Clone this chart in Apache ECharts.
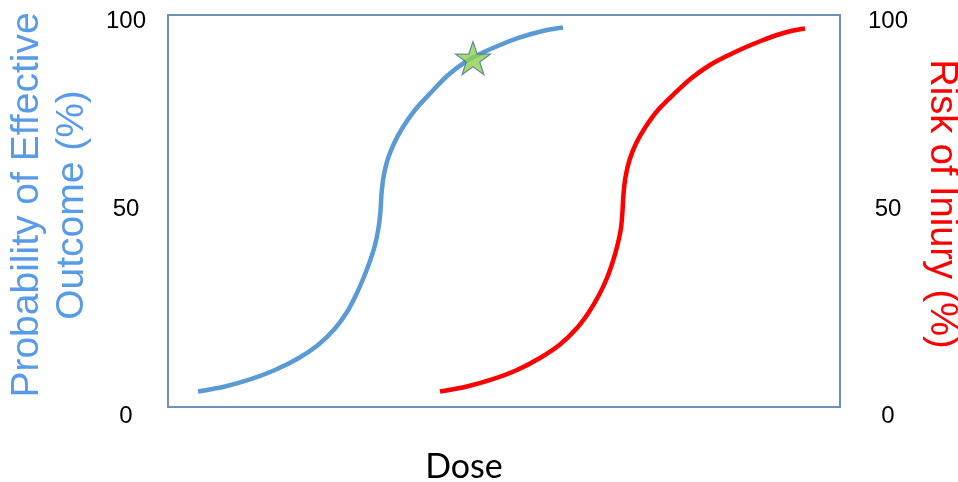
<!DOCTYPE html>
<html>
<head>
<meta charset="utf-8">
<script src="https://cdn.jsdelivr.net/npm/echarts@6/dist/echarts.min.js"></script>
<style>html,body{margin:0;padding:0;background:#fff;}#chart{width:958px;height:482px;}</style>
</head>
<body>
<div id="chart"></div>
<script>
// Dose (arbitrary units, 0-672 across the plot box) and percentages
var doseMax = 672;
var effectiveDose = [30, 57, 82, 107, 130, 150, 167, 179, 188, 195.5, 202, 207, 210.5, 212.5, 213.5, 215.5, 219.5, 226, 235, 247, 262, 279, 298, 316, 332, 349, 365, 379, 395];
var effectivePct  = [3.95, 5.23, 7.02, 9.44, 12.37, 15.82, 20.03, 24.23, 28.57, 32.91, 37.24, 41.33, 45.66, 50.0, 54.34, 58.67, 63.01, 67.22, 71.43, 75.77, 79.97, 84.44, 88.14, 90.56, 92.35, 94.01, 95.28, 96.17, 96.81];
var injuryDose = [272, 299, 324, 349, 372, 392, 409, 421, 431, 439, 445, 449.5, 453, 454.5, 455.5, 457.5, 461.5, 468, 477.5, 490, 506, 523, 542, 560, 577, 594, 609, 623, 637];
var injuryPct  = [3.95, 5.23, 7.02, 9.44, 12.5, 15.94, 20.15, 24.23, 28.57, 32.91, 37.24, 41.33, 45.66, 50.0, 54.34, 58.67, 63.01, 67.22, 71.43, 75.77, 79.85, 83.8, 87.24, 89.67, 91.71, 93.49, 94.9, 95.92, 96.56];
var starPoint = [305, 89.0];
var yTicks = [0, 50, 100];

function pairs(xs, ys){ return xs.map(function(x,i){ return [x, ys[i]]; }); }

var labelRich = {
  z: {fontSize: 24, color: '#000', fontFamily: 'Liberation Sans, Arial', padding: [19,0,0,0]},
  m: {fontSize: 24, color: '#000', fontFamily: 'Liberation Sans, Arial', padding: [0,0,4,0]},
  h: {fontSize: 24, color: '#000', fontFamily: 'Liberation Sans, Arial', padding: [13,0,0,0]}
};
function fmt(v){
  if (v === yTicks[0]) return '{z|' + v + '}';
  if (v === yTicks[2]) return '{h|' + v + '}';
  return '{m|' + v + '}';
}

var chart = echarts.init(document.getElementById('chart'), null, {renderer: 'canvas'});
chart.setOption({
  animation: false,
  backgroundColor: '#fff',
  grid: {left: 168, right: 118, top: 15, bottom: 75, containLabel: false, outerBoundsMode: 'none',
         show: true, borderColor: '#6f90b8', borderWidth: 2, backgroundColor: 'transparent'},
  xAxis: {
    type: 'value', min: 0, max: doseMax,
    axisLine: {show: false}, axisTick: {show: false}, axisLabel: {show: false}, splitLine: {show: false},
    name: 'Dose', nameLocation: 'middle', nameGap: 40,
    nameTextStyle: {fontFamily: 'Lato', fontSize: 34, color: '#000', lineHeight: 40, padding: [0, 80, 0, 0]}
  },
  yAxis: [{
    type: 'value', position: 'left', min: 0, max: 100, interval: 50,
    axisLine: {show: false}, axisTick: {show: false}, splitLine: {show: false},
    axisLabel: {margin: 42, align: 'center', formatter: fmt, rich: labelRich},
    name: 'Probability of Effective\nOutcome (%)', nameLocation: 'middle', nameRotate: 90, nameGap: 70,
    nameTextStyle: {fontFamily: 'Liberation Sans, Arial', fontSize: 39, lineHeight: 45, color: '#589BE8', align: 'center', padding: [0, 0, 0, 12]}
  }, {
    type: 'value', position: 'right', min: 0, max: 100, interval: 50,
    axisLine: {show: false}, axisTick: {show: false}, splitLine: {show: false},
    axisLabel: {margin: 48, align: 'center', formatter: fmt, rich: labelRich},
    name: 'Risk of Iniury (%)', nameLocation: 'middle', nameRotate: -90, nameGap: 73,
    nameTextStyle: {fontFamily: 'Liberation Sans, Arial', fontSize: 38, lineHeight: 45, color: '#FF0000', padding: [0, 14, 0, 0]}
  }],
  series: [{
    type: 'line', data: pairs(effectiveDose, effectivePct), smooth: 0.25, showSymbol: false,
    lineStyle: {color: '#5B9BD5', width: 4.5, cap: 'butt', join: 'round'}, z: 2
  }, {
    type: 'line', data: pairs(injuryDose, injuryPct), smooth: 0.25, showSymbol: false,
    lineStyle: {color: '#FF0000', width: 4.5, cap: 'butt', join: 'round'}, z: 2
  }, {
    type: 'scatter', data: [starPoint], z: 3,
    symbol: 'path://M50,0 L61.8,35.2 L98.6,35.2 L68.8,57.2 L80.3,92.6 L50,70.6 L19.7,92.6 L31.2,57.2 L1.4,35.2 L38.2,35.2 Z',
    symbolSize: [35, 33],
    itemStyle: {color: '#8FD14F', borderColor: '#4d6f94', borderWidth: 1.2}
  }]
});
</script>
</body>
</html>
